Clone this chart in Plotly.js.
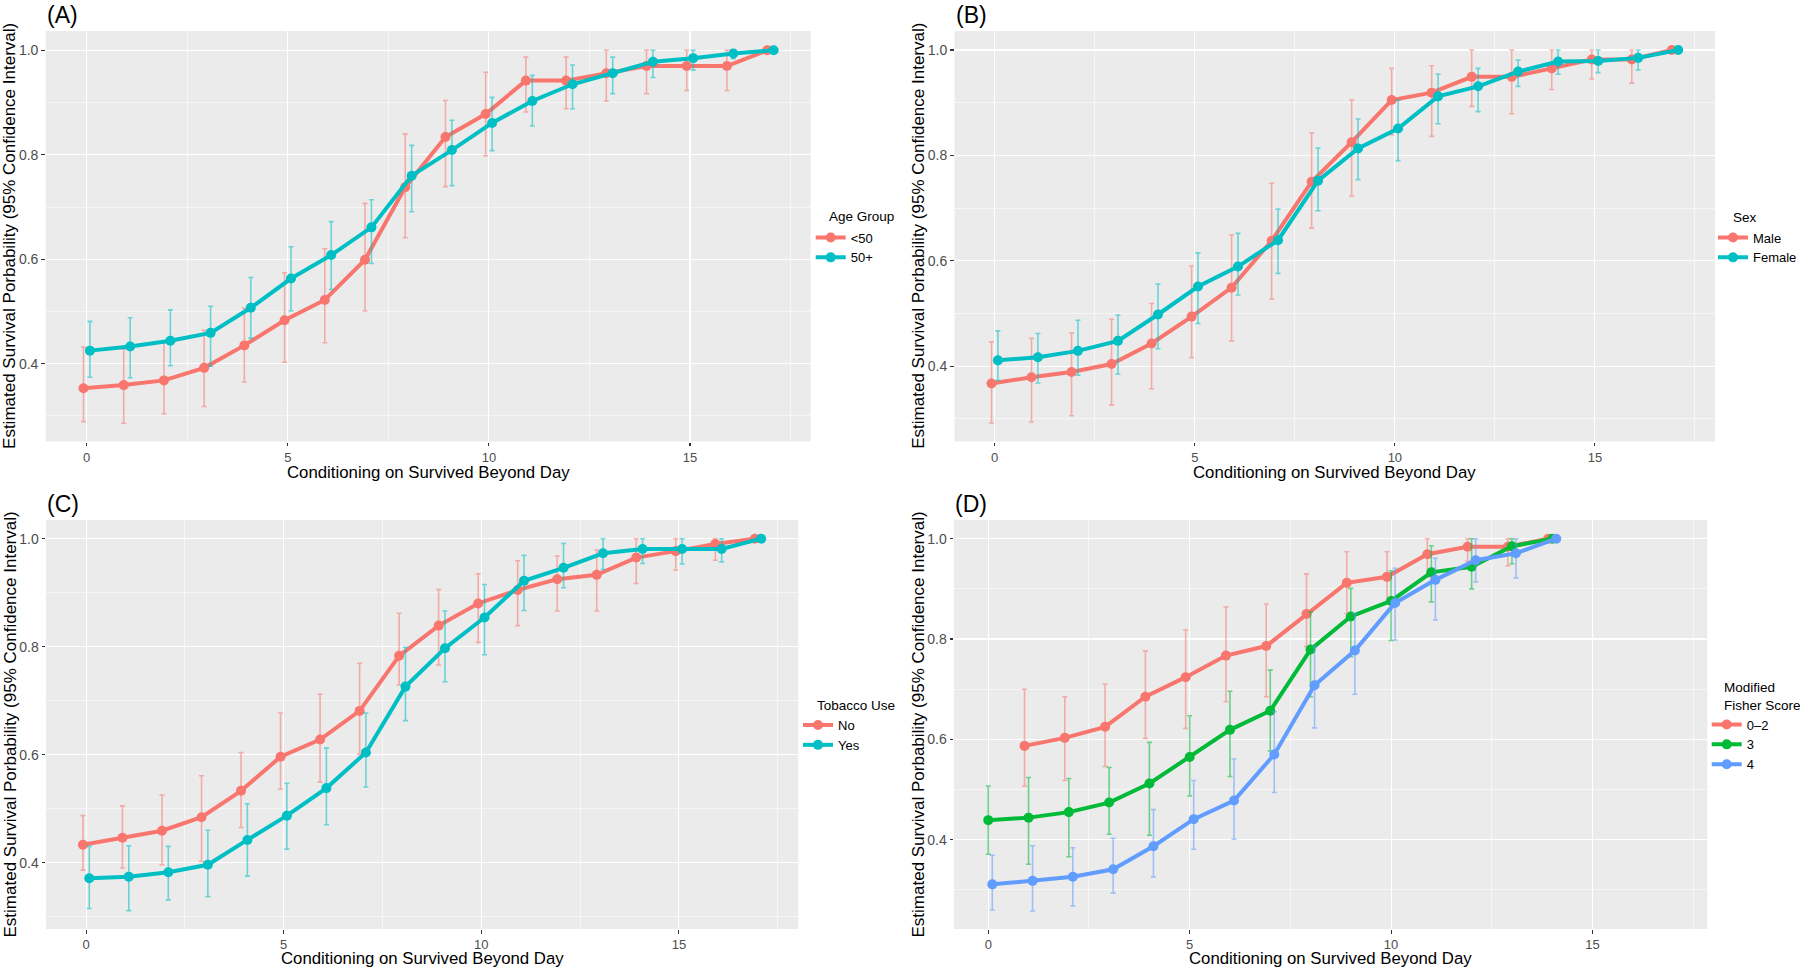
<!DOCTYPE html>
<html>
<head>
<meta charset="utf-8">
<script src="https://cdn.plot.ly/plotly-3.0.1.min.js"></script>
<style>
  html, body { margin: 0; padding: 0; background: #ffffff; }
  #chart { width: 1800px; height: 968px; }
</style>
</head>
<body>
<div id="chart"></div>
<script>
// ---------------- DATA ----------------
const days17 = [0,1,2,3,4,5,6,7,8,9,10,11,12,13,14,15,16,17];
const days0to14 = [0,1,2,3,4,5,6,7,8,9,10,11,12,13,14];
const days1to14 = [1,2,3,4,5,6,7,8,9,10,11,12,13,14];

// (A) Age Group
const ageLt50Est = [0.353,0.359,0.368,0.392,0.435,0.483,0.522,0.599,0.738,0.834,0.878,0.942,0.942,0.956,0.970,0.970,0.970,1.0];
const ageLt50Lo  = [0.289,0.286,0.304,0.318,0.365,0.403,0.440,0.501,0.641,0.739,0.798,0.882,0.888,0.903,0.917,0.923,0.923,1.0];
const ageLt50Hi  = [0.432,0.428,0.440,0.464,0.506,0.574,0.620,0.707,0.840,0.904,0.958,0.987,0.987,1.0,1.0,1.0,1.0,1.0];
const age50Est = [0.425,0.433,0.444,0.459,0.507,0.563,0.608,0.661,0.760,0.809,0.861,0.903,0.935,0.956,0.978,0.985,0.994,1.0];
const age50Lo  = [0.374,0.373,0.396,0.395,0.449,0.501,0.542,0.592,0.691,0.741,0.808,0.855,0.888,0.917,0.948,0.962,0.984,1.0];
const age50Hi  = [0.481,0.488,0.503,0.510,0.565,0.624,0.672,0.714,0.818,0.866,0.910,0.952,0.972,0.987,1.0,1.0,1.0,1.0];

// (B) Sex
const maleEst = [0.367,0.379,0.389,0.404,0.443,0.494,0.549,0.638,0.750,0.825,0.905,0.919,0.949,0.949,0.965,0.982,0.982,1.0];
const maleLo  = [0.292,0.294,0.306,0.326,0.357,0.416,0.448,0.527,0.662,0.723,0.839,0.836,0.893,0.879,0.925,0.945,0.937,1.0];
const maleHi  = [0.446,0.453,0.463,0.489,0.519,0.590,0.649,0.747,0.843,0.905,0.965,0.970,1.0,1.0,1.0,1.0,1.0,1.0];
const femaleEst = [0.411,0.417,0.429,0.448,0.498,0.551,0.589,0.639,0.752,0.813,0.851,0.912,0.931,0.959,0.978,0.979,0.985,1.0];
const femaleLo  = [0.373,0.368,0.383,0.385,0.433,0.481,0.535,0.576,0.695,0.754,0.790,0.860,0.883,0.931,0.954,0.957,0.962,1.0];
const femaleHi  = [0.467,0.462,0.487,0.497,0.556,0.615,0.652,0.698,0.814,0.869,0.905,0.954,0.965,0.981,1.0,1.0,1.0,1.0];

// (C) Tobacco Use
const tobNoEst = [0.433,0.446,0.459,0.484,0.533,0.596,0.628,0.681,0.783,0.839,0.880,0.905,0.925,0.933,0.965,0.977,0.990,1.0];
const tobNoLo  = [0.386,0.390,0.396,0.402,0.465,0.536,0.549,0.601,0.729,0.766,0.808,0.839,0.866,0.866,0.917,0.942,0.960,1.0];
const tobNoHi  = [0.487,0.505,0.525,0.561,0.604,0.677,0.712,0.769,0.862,0.906,0.935,0.959,0.968,0.979,1.0,1.0,1.0,1.0];
const tobYesEst = [0.371,0.374,0.382,0.396,0.442,0.487,0.538,0.604,0.726,0.797,0.854,0.922,0.946,0.973,0.981,0.981,0.981,1.0];
const tobYesLo  = [0.315,0.311,0.331,0.337,0.375,0.425,0.470,0.540,0.663,0.735,0.785,0.867,0.909,0.943,0.954,0.953,0.957,1.0];
const tobYesHi  = [0.430,0.431,0.430,0.460,0.509,0.547,0.612,0.677,0.799,0.866,0.915,0.969,0.991,1.0,1.0,1.0,1.0,1.0];

// (D) Modified Fisher Score
const mfs02Est = [0.587,0.603,0.625,0.685,0.724,0.767,0.786,0.850,0.912,0.924,0.969,0.984,0.984,1.0];
const mfs02Lo  = [0.507,0.518,0.546,0.602,0.622,0.675,0.685,0.785,0.851,0.872,0.924,0.955,0.946,1.0];
const mfs02Hi  = [0.700,0.685,0.710,0.776,0.818,0.864,0.870,0.930,0.974,0.974,1.0,1.0,1.0,1.0];
const mfs3Est = [0.439,0.444,0.455,0.474,0.512,0.565,0.619,0.657,0.779,0.845,0.876,0.933,0.944,0.985,1.0];
const mfs3Lo  = [0.371,0.351,0.366,0.411,0.409,0.487,0.526,0.577,0.685,0.765,0.797,0.874,0.900,0.950,1.0];
const mfs3Hi  = [0.507,0.524,0.522,0.544,0.594,0.647,0.696,0.738,0.854,0.901,0.936,0.986,1.0,1.0,1.0];
const mfs4Est = [0.311,0.318,0.326,0.341,0.387,0.441,0.478,0.570,0.708,0.777,0.872,0.918,0.957,0.971,1.0];
const mfs4Lo  = [0.260,0.258,0.268,0.294,0.326,0.381,0.401,0.494,0.623,0.690,0.798,0.838,0.914,0.922,1.0];
const mfs4Hi  = [0.369,0.388,0.384,0.403,0.460,0.518,0.561,0.655,0.785,0.851,0.941,0.961,1.0,1.0,1.0];

const xTitle = 'Conditioning on Survived Beyond Day';
const yTitle = 'Estimated Survival Porbability (95% Confidence Interval)';
const panelLabels = ['(A)', '(B)', '(C)', '(D)'];
const legendTitles = ['Age Group', 'Sex', 'Tobacco Use', 'Modified<br>Fisher Score'];

// ---------------- STYLE ----------------
const W = 1800, H = 968;
const RED = '#F8766D', TEAL = '#00BFC4', GREEN = '#00BA38', BLUE = '#619CFF';
function rgba(hex, a) {
  const n = parseInt(hex.slice(1), 16);
  return `rgba(${(n>>16)&255},${(n>>8)&255},${n&255},${a})`;
}
const px2x = p => p / W;
const px2y = p => 1 - p / H;

function series(days, est, lo, hi, name, color, dodge, ax, legend) {
  return {
    type: 'scatter', mode: 'lines+markers', name: name,
    x: days.map(d => d + dodge), y: est,
    xaxis: 'x' + ax, yaxis: 'y' + ax, legend: legend,
    line: { color: color, width: 4 },
    marker: { color: color, size: 10 },
    error_y: {
      type: 'data', symmetric: false,
      array: hi.map((h, i) => h - est[i]),
      arrayminus: lo.map((l, i) => est[i] - l),
      color: rgba(color, 0.55), thickness: 1.6, width: 2.5
    },
    hoverinfo: 'x+y+name'
  };
}

const data = [
  series(days17, ageLt50Est, ageLt50Lo, ageLt50Hi, '&lt;50', RED, -0.08, '', 'legend'),
  series(days17, age50Est, age50Lo, age50Hi, '50+', TEAL, 0.08, '', 'legend'),
  series(days17, maleEst, maleLo, maleHi, 'Male', RED, -0.08, '2', 'legend2'),
  series(days17, femaleEst, femaleLo, femaleHi, 'Female', TEAL, 0.08, '2', 'legend2'),
  series(days17, tobNoEst, tobNoLo, tobNoHi, 'No', RED, -0.08, '3', 'legend3'),
  series(days17, tobYesEst, tobYesLo, tobYesHi, 'Yes', TEAL, 0.08, '3', 'legend3'),
  series(days1to14, mfs02Est, mfs02Lo, mfs02Hi, '0–2', RED, -0.1, '4', 'legend4'),
  series(days0to14, mfs3Est, mfs3Lo, mfs3Hi, '3', GREEN, 0, '4', 'legend4'),
  series(days0to14, mfs4Est, mfs4Lo, mfs4Hi, '4', BLUE, 0.1, '4', 'legend4')
];

// panel geometry in pixels, axis ranges, legend title / item positions
const panels = [
  { l: 45.7, r: 810.6, t: 31, b: 441.5, xr: [-1.02, 18.0], yr: [0.251, 1.037], xt: 31,
    legTitle: [827, 216], legItems: [850.7, 237] },
  { l: 954.5, r: 1715, t: 31, b: 441.5, xr: [-1.005, 18.0], yr: [0.257, 1.036], xt: 31,
    legTitle: [1731, 217], legItems: [1753, 237] },
  { l: 46, r: 798.3, t: 520, b: 929, xr: [-1.015, 18.02], yr: [0.277, 1.0346], xt: 29.5,
    legTitle: [815, 705], legItems: [838, 724.5] },
  { l: 954, r: 1707.3, t: 520, b: 929, xr: [-0.851, 17.85], yr: [0.222, 1.0373], xt: 29.5,
    legTitle: [1722, 696.5], legItems: [1746.7, 724] }
];

const FONT = 'Liberation Sans, Arial, Helvetica, sans-serif';
const layout = {
  width: W, height: H,
  margin: { l: 0, r: 0, t: 0, b: 0, pad: 0, autoexpand: false },
  paper_bgcolor: '#ffffff',
  plot_bgcolor: '#EBEBEB',
  font: { family: FONT, size: 14, color: '#000000' },
  showlegend: true,
  annotations: []
};

function axisBase(tickSize) {
  return {
    showline: false, zeroline: false, automargin: false,
    gridcolor: '#ffffff', gridwidth: 1.1,
    ticks: 'outside', ticklen: 3.5, tickwidth: 1.1, tickcolor: '#333333',
    tickfont: { family: FONT, size: tickSize, color: '#4D4D4D' },
    fixedrange: true
  };
}

const LEG_TEXT_OFFSET = 40;   // distance from legend left edge to item text
const LEG_FIRST_ROW = 14.5;   // distance from legend top to first row centre

panels.forEach((p, i) => {
  const suf = i === 0 ? '' : String(i + 1);
  const xa = Object.assign(axisBase(13), {
    domain: [px2x(p.l), px2x(p.r)], range: p.xr,
    anchor: 'y' + suf, tick0: 0, dtick: 5,
    minor: { dtick: 2.5, tick0: 0, showgrid: true, gridcolor: '#ffffff', gridwidth: 0.55, ticks: '' }
  });
  const ya = Object.assign(axisBase(14), {
    domain: [px2y(p.b), px2y(p.t)], range: p.yr,
    anchor: 'x' + suf, tick0: 0, dtick: 0.2, tickformat: '.1f',
    minor: { dtick: 0.1, tick0: 0, showgrid: true, gridcolor: '#ffffff', gridwidth: 0.55, ticks: '' }
  });
  layout['xaxis' + suf] = xa;
  layout['yaxis' + suf] = ya;

  // panel label
  layout.annotations.push({
    text: panelLabels[i], xref: 'paper', yref: 'paper',
    x: px2x(p.l - 1), y: px2y(p.t - 16), xanchor: 'left', yanchor: 'middle',
    showarrow: false, font: { family: FONT, size: 23, color: '#000000' }
  });
  // x axis title
  layout.annotations.push({
    text: xTitle, xref: 'paper', yref: 'paper',
    x: px2x((p.l + p.r) / 2), y: px2y(p.b + p.xt), xanchor: 'center', yanchor: 'middle',
    showarrow: false, font: { family: FONT, size: 16.8, color: '#000000' }
  });
  // y axis title
  layout.annotations.push({
    text: yTitle, xref: 'paper', yref: 'paper', textangle: -90,
    x: px2x(p.l - 36), y: px2y((p.t + p.b) / 2), xanchor: 'center', yanchor: 'middle',
    showarrow: false, font: { family: FONT, size: 17, color: '#000000' }
  });
  // legend title
  layout.annotations.push({
    text: legendTitles[i], xref: 'paper', yref: 'paper', align: 'left',
    x: px2x(p.legTitle[0]), y: px2y(p.legTitle[1]), xanchor: 'left', yanchor: 'middle',
    showarrow: false, font: { family: FONT, size: 13.5, color: '#000000' }
  });
  // legend items
  layout['legend' + suf] = {
    x: px2x(p.legItems[0] - LEG_TEXT_OFFSET), y: px2y(p.legItems[1] - LEG_FIRST_ROW),
    xanchor: 'left', yanchor: 'top',
    bgcolor: 'rgba(255,255,255,0)', borderwidth: 0,
    font: { family: FONT, size: 13, color: '#000000' },
    itemwidth: 30, tracegroupgap: 0
  };
});

Plotly.newPlot('chart', data, layout, { displayModeBar: false, staticPlot: true });
</script>
</body>
</html>
